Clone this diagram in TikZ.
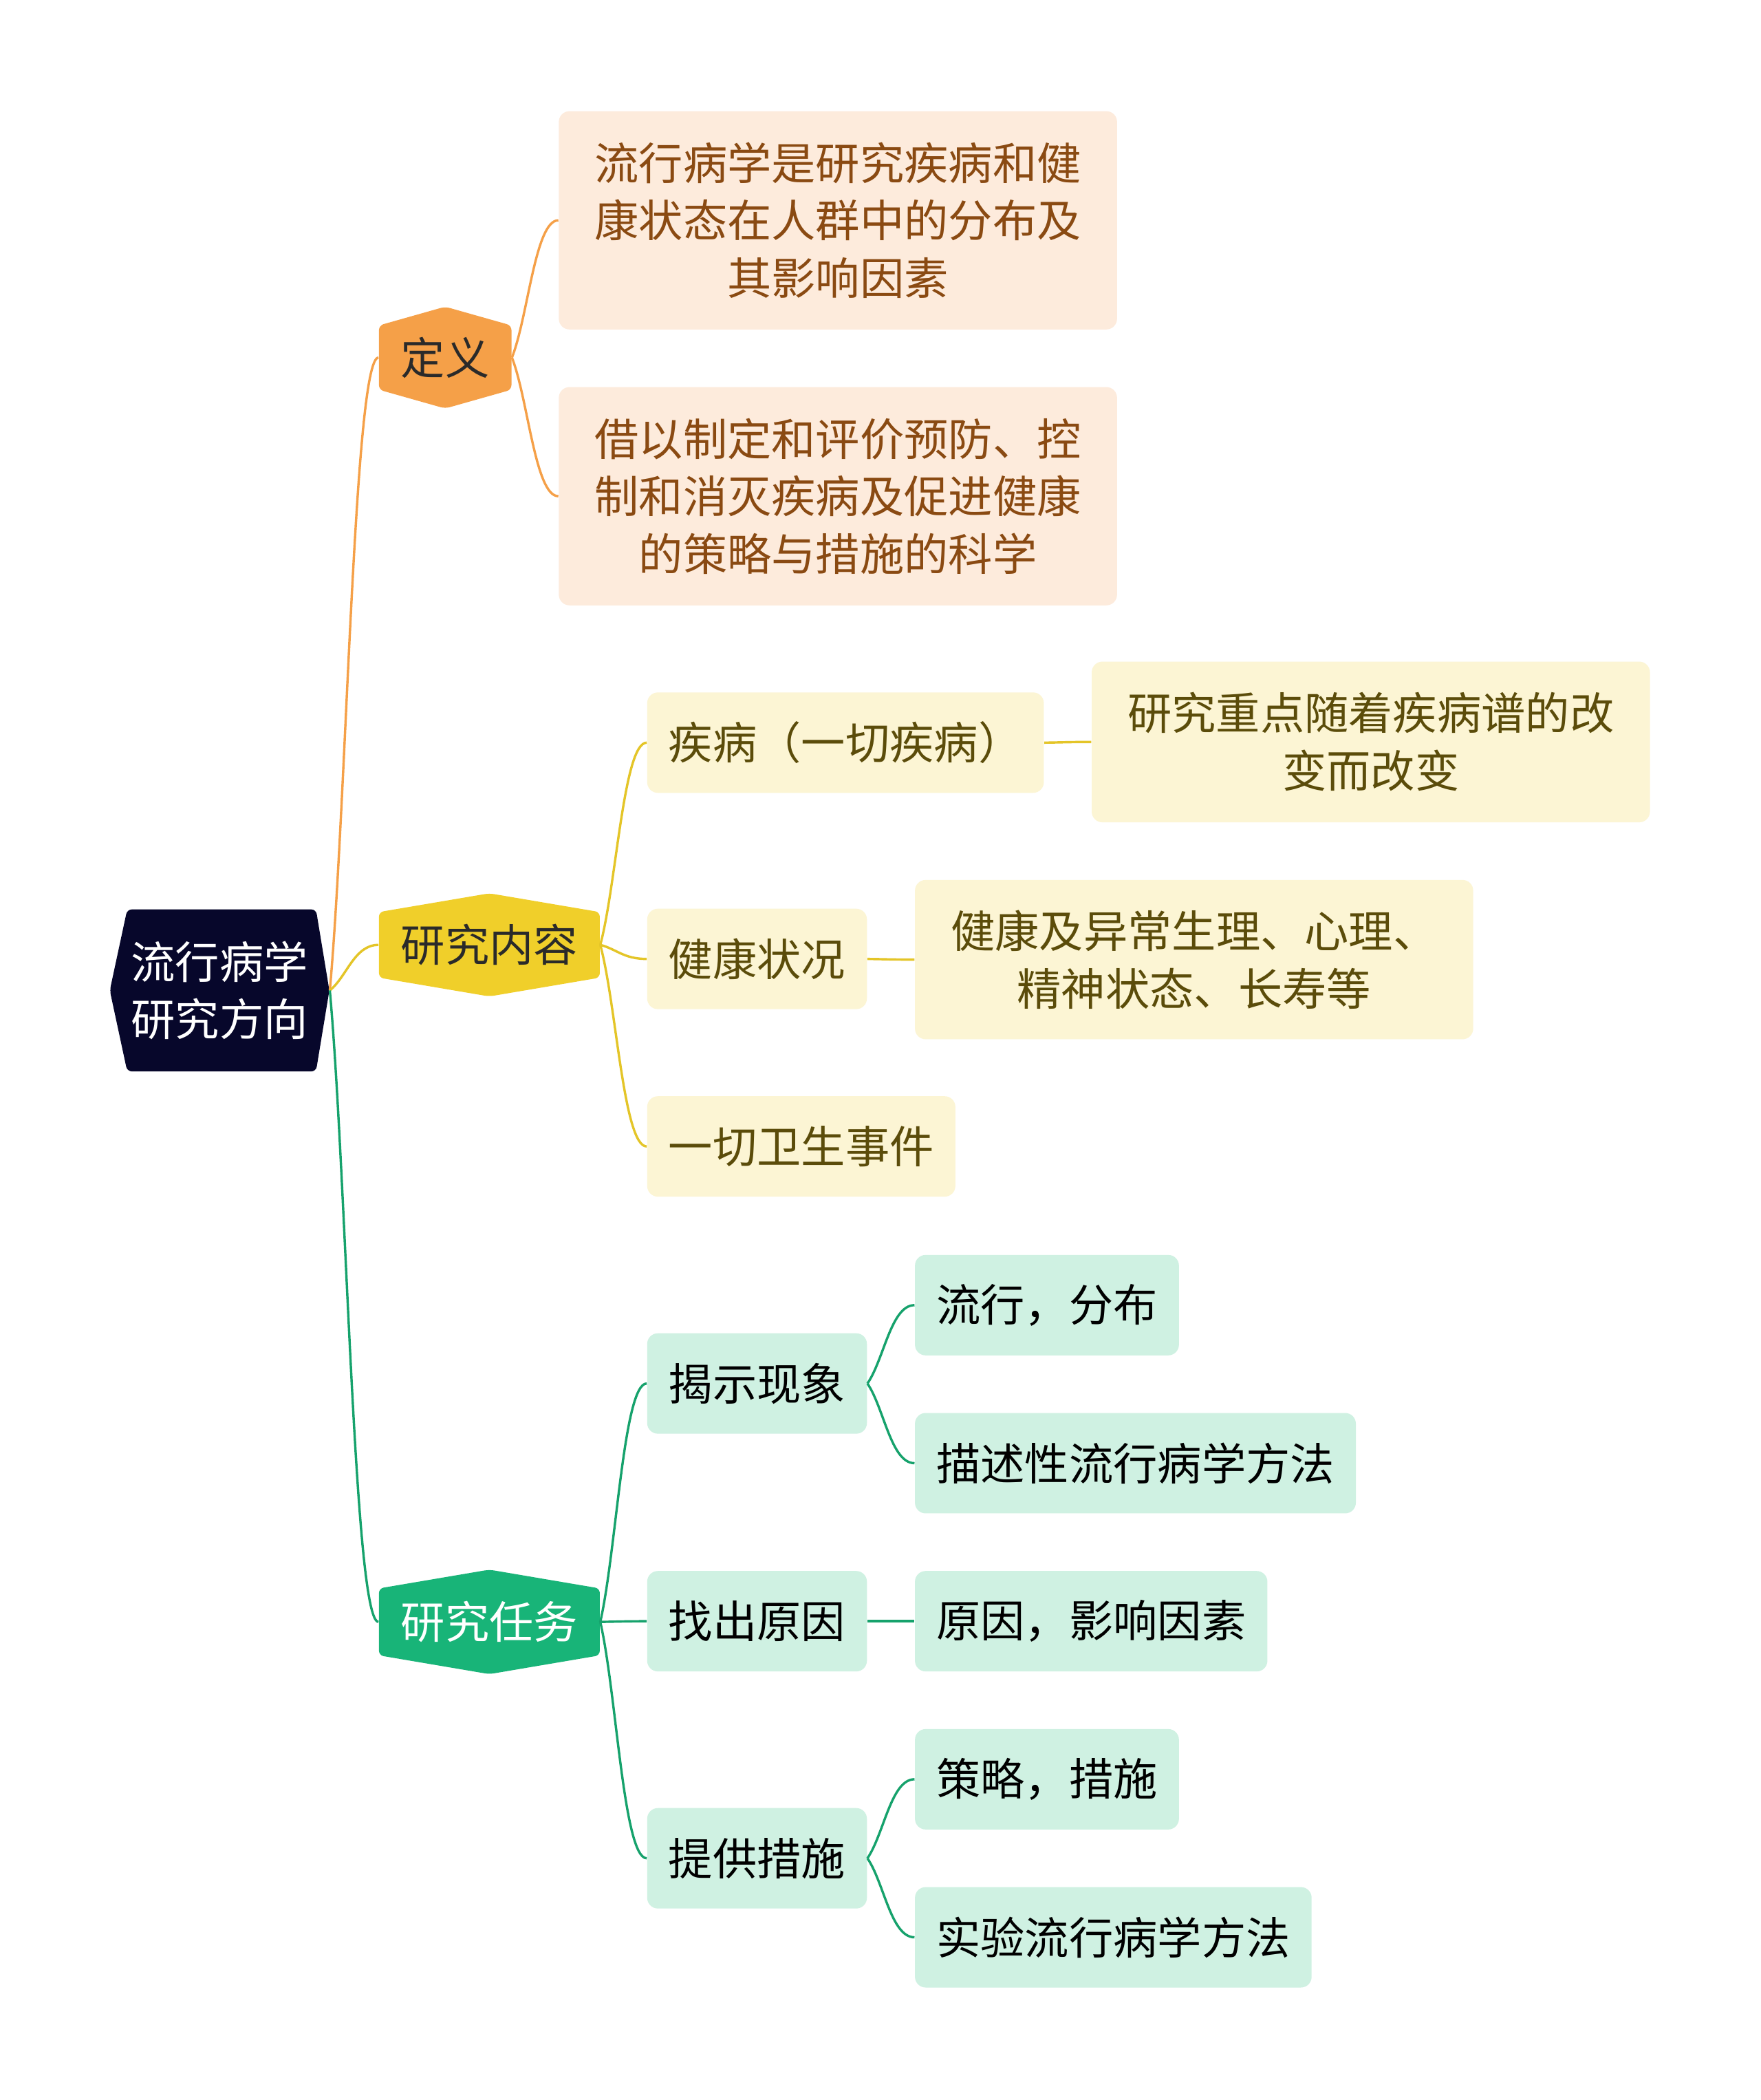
\documentclass[tikz,border=0pt]{standalone}
\usepackage{fontspec}
\newfontfamily\cjk{Noto Sans CJK SC}
\usetikzlibrary{calc}
\definecolor{epiNavy}{HTML}{07072B}
\definecolor{epiOrange}{HTML}{F5A048}
\definecolor{epiYellow}{HTML}{F0CF2A}
\definecolor{epiGreen}{HTML}{18B478}
\definecolor{epiPeach}{HTML}{FDEBDC}
\definecolor{epiCream}{HTML}{FCF5D4}
\definecolor{epiMint}{HTML}{CFF1E2}
\definecolor{epiBrown}{HTML}{8A4A12}
\definecolor{epiOlive}{HTML}{5B4C0A}
\definecolor{epiInk}{HTML}{2A2A2A}

\newcommand{\brline}[3]{\draw[#1] let \p1=(#2), \p2=(#3) in (\p1) .. controls ({\x1+0.35*(\x2-\x1)},{\y1+0.3*(\y2-\y1)}) and ({\x1+0.5*(\x2-\x1)},\y2) .. (\p2);}

\begin{document}
\begin{tikzpicture}[x=0.02cm,y=-0.02cm,font=\cjk\fontsize{18.8}{24.5}\selectfont]
    \tikzset{hexv/.style={inner sep=0pt,minimum height=1.54cm,
        path picture={\fill[#1,rounded corners=2pt] ($(path picture bounding box.north west)+(0pt,-0.28cm)$) -- (path picture bounding box.north) -- ($(path picture bounding box.north east)+(0pt,-0.28cm)$) -- ($(path picture bounding box.south east)+(0pt,0.28cm)$) -- (path picture bounding box.south) -- ($(path picture bounding box.south west)+(0pt,0.28cm)$) -- cycle;}},
      hexh/.style={inner sep=0pt,align=center,
        path picture={\fill[#1,rounded corners=2pt] (path picture bounding box.west) -- ($(path picture bounding box.north west)+(0.26cm,0pt)$) -- ($(path picture bounding box.north east)+(-0.2cm,0pt)$) -- (path picture bounding box.east) -- ($(path picture bounding box.south east)+(-0.2cm,0pt)$) -- ($(path picture bounding box.south west)+(0.26cm,0pt)$) -- cycle;}},
      leaf/.style={anchor=west,rounded corners=0.16cm,minimum height=1.5cm,inner xsep=0.32cm,inner ysep=0pt},
      note/.style={anchor=west,rounded corners=0.16cm,align=center,inner sep=0pt,minimum width=8.34cm},
      lnO/.style={epiOrange,line width=1pt},
      lnY/.style={epiYellow!95!black,line width=1pt},
      lnG/.style={epiGreen!90!black,line width=1pt}}
    \useasboundingbox[fill=white] (0,0) rectangle (1315,1568);

    \node[hexh=epiNavy,text=white,minimum width=3.28cm,minimum height=2.42cm] (root) at (164,739.5) {流行病学\\研究方向};
    \node[hexv=epiOrange,text=epiInk,minimum width=1.98cm,minimum height=1.52cm] (def) at (332.5,267) {定义};
    \node[hexv=epiYellow,text=epiInk,minimum width=3.3cm] (cont) at (365.5,705.5) {研究内容};
    \node[hexv=epiGreen,text=white,minimum width=3.3cm,minimum height=1.56cm] (task) at (365.5,1211) {研究任务};

    \node[note,fill=epiPeach,text=epiBrown,minimum height=3.26cm] (def1) at (417,164.5) {流行病学是研究疾病和健\\康状态在人群中的分布及\\其影响因素};
    \node[note,fill=epiPeach,text=epiBrown,minimum height=3.26cm] (def2) at (417,370.5) {借以制定和评价预防、控\\制和消灭疾病及促进健康\\的策略与措施的科学};

    \node[leaf,fill=epiCream,text=epiOlive] (c1) at (483,554.5) {疾病（一切疾病）};
    \node[note,fill=epiCream,text=epiOlive,minimum height=2.4cm] (c1a) at (815,554) {研究重点随着疾病谱的改\\变而改变};
    \node[leaf,fill=epiCream,text=epiOlive] (c2) at (483,716) {健康状况};
    \node[note,fill=epiCream,text=epiOlive,minimum height=2.38cm] (c2a) at (683,716.5) {健康及异常生理、心理、\\精神状态、长寿等};
    \node[leaf,fill=epiCream,text=epiOlive] (c3) at (483,856) {一切卫生事件};

    \node[leaf,fill=epiMint,text=black] (t1) at (483,1033) {揭示现象};
    \node[leaf,fill=epiMint,text=black] (t1a) at (683,974.5) {流行，分布};
    \node[leaf,fill=epiMint,text=black] (t1b) at (683,1092.5) {描述性流行病学方法};
    \node[leaf,fill=epiMint,text=black] (t2) at (483,1210.5) {找出原因};
    \node[leaf,fill=epiMint,text=black] (t2a) at (683,1210.5) {原因，影响因素};
    \node[leaf,fill=epiMint,text=black] (t3) at (483,1387.5) {提供措施};
    \node[leaf,fill=epiMint,text=black] (t3a) at (683,1328.5) {策略，措施};
    \node[leaf,fill=epiMint,text=black] (t3b) at (683,1446.5) {实验流行病学方法};

    \brline{lnO}{root.east}{def.west}
    \brline{lnY}{root.east}{cont.west}
    \brline{lnG}{root.east}{task.west}
    \brline{lnO}{def.east}{def1.west}
    \brline{lnO}{def.east}{def2.west}
    \brline{lnY}{cont.east}{c1.west}
    \brline{lnY}{cont.east}{c2.west}
    \brline{lnY}{cont.east}{c3.west}
    \brline{lnY}{c1.east}{c1a.west}
    \brline{lnY}{c2.east}{c2a.west}
    \brline{lnG}{task.east}{t1.west}
    \brline{lnG}{task.east}{t2.west}
    \brline{lnG}{task.east}{t3.west}
    \brline{lnG}{t1.east}{t1a.west}
    \brline{lnG}{t1.east}{t1b.west}
    \brline{lnG}{t2.east}{t2a.west}
    \brline{lnG}{t3.east}{t3a.west}
    \brline{lnG}{t3.east}{t3b.west}
  \end{tikzpicture}
\end{document}
